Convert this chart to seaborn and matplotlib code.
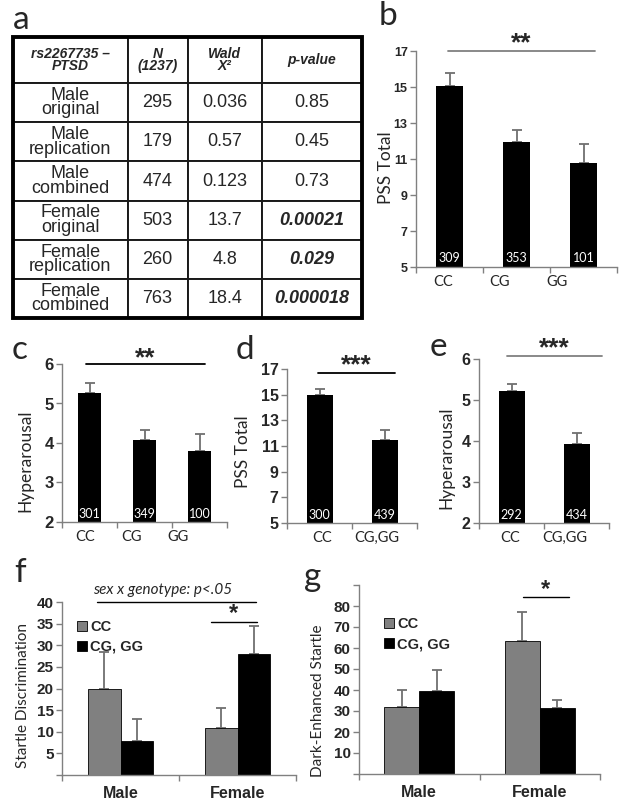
import numpy as np
import pandas as pd
import matplotlib
matplotlib.use("Agg")
import matplotlib.pyplot as plt
import seaborn as sns

# ---- data -------------------------------------------------------------
table_header = ["rs2267735 –\nPTSD", "N\n(1237)", "Wald\nΧ²", "p-value"]
table_groups = ["Male\noriginal", "Male\nreplication", "Male\ncombined",
                "Female\noriginal", "Female\nreplication", "Female\ncombined"]
table_n      = ["295", "179", "474", "503", "260", "763"]
table_wald   = ["0.036", "0.57", "0.123", "13.7", "4.8", "18.4"]
table_p      = ["0.85", "0.45", "0.73", "0.00021", "0.029", "0.000018"]

geno3 = ["CC", "CG", "GG"]
geno2 = ["CC", "CG,GG"]

pss3_mean  = [15.05, 11.95, 10.8]
pss3_err   = [0.75, 0.65, 1.05]
pss3_n     = [309, 353, 101]

hyp3_mean  = [5.27, 4.08, 3.81]
hyp3_err   = [0.25, 0.24, 0.41]
hyp3_n     = [301, 349, 100]

pss2_mean  = [15.0, 11.45]
pss2_err   = [0.45, 0.8]
pss2_n     = [300, 439]

hyp2_mean  = [5.21, 3.93]
hyp2_err   = [0.17, 0.27]
hyp2_n     = [292, 434]

sexes = ["Male", "Female"]
hue_levels = ["CC", "CG, GG"]
startle_cc     = [20.0, 10.9]
startle_cc_err = [8.5, 4.5]
startle_cg     = [7.9, 28.0]
startle_cg_err = [5.1, 6.4]

dark_cc     = [31.8, 63.5]
dark_cc_err = [8.2, 13.5]
dark_cg     = [39.5, 31.3]
dark_cg_err = [9.8, 4.0]

# ---- style ------------------------------------------------------------
sns.set_theme(style="white")
plt.rcParams["font.family"] = ["Liberation Sans", "DejaVu Sans"]
CAL = ["Lato", "DejaVu Sans"]      # stand-in for Calibri
AX_GREY = "#808080"

W, H = 624, 809
fig = plt.figure(figsize=(W / 100, H / 100), dpi=100)


def add_ax(x0, x1, ytop, ybot):
    # pixel box -> figure fraction
    return fig.add_axes([x0 / W, 1 - ybot / H, (x1 - x0) / W, (ybot - ytop) / H])


def style_axes(ax, yticks, tick_size, hide=()):
    sns.despine(ax=ax)
    for s in ("left", "bottom"):
        ax.spines[s].set_color(AX_GREY)
        ax.spines[s].set_linewidth(1.0)
    ax.set_yticks(yticks)
    ax.set_yticklabels(["" if t in hide else str(t) for t in yticks],
                       fontsize=tick_size, fontweight="bold")
    ax.tick_params(axis="y", length=4, width=1, color=AX_GREY, pad=2, left=True)
    n = len(ax.get_xticks())
    ax.set_xticks(np.arange(-0.5, n, 1.0))
    ax.set_xticklabels([])
    ax.tick_params(axis="x", which="major", length=4, width=1, color=AX_GREY, bottom=True)
    ax.set_xlim(-0.5, n - 0.5)


def up_errors(ax, xs, means, errs):
    ax.errorbar(xs, means, yerr=[np.zeros(len(errs)), errs], fmt="none",
                ecolor="#707070", elinewidth=1.3, capsize=3.5, capthick=1.3, zorder=1)


def simple_panel(rect, cats, means, errs, counts, ylim, yticks, tick_size,
                 ylabel, ylab_xy, label_pos, width, sig, line_col):
    ax = add_ax(*rect)
    sns.barplot(x=cats, y=means, color="black", saturation=1, width=width,
                errorbar=None, linewidth=0, ax=ax, zorder=2)
    ax.set_ylim(*ylim)
    style_axes(ax, yticks, tick_size)
    xs = [p.get_x() + p.get_width() / 2 for p in ax.patches]
    up_errors(ax, xs, means, errs)
    for x, n in zip(xs, counts):
        ax.text(x, ylim[0] + 0.012 * (ylim[1] - ylim[0]), str(n), color="white",
                ha="center", va="bottom", fontsize=9, family=CAL, zorder=3)
    ax.set_xticks(label_pos, cats, minor=True, fontsize=10.5, family=CAL)
    ax.tick_params(axis="x", which="minor", length=0, pad=6)
    ax.set_ylabel(ylabel, fontsize=12.5, family=CAL, va="center")
    ax.yaxis.set_label_coords(*ylab_xy)
    x0, x1, ly, stars, sy = sig
    ax.plot([x0, x1], [ly, ly], color=line_col, lw=1.3, clip_on=False)
    ax.text((x0 + x1) / 2, sy, stars, ha="center", va="center", fontsize=19,
            fontweight="bold", clip_on=False)
    return ax


def grouped_panel(rect, cc, cc_err, cg, cg_err, ylim, yticks, hide, ylabel,
                  ylab_xy, width, legend_anchor):
    ax = add_ax(*rect)
    df = pd.DataFrame({"sex": sexes * 2,
                       "genotype": [hue_levels[0]] * 2 + [hue_levels[1]] * 2,
                       "value": cc + cg})
    sns.barplot(df, x="sex", y="value", hue="genotype", hue_order=hue_levels,
                palette=["#808080", "black"], saturation=1, width=width,
                edgecolor="black", linewidth=0.6, errorbar=None, ax=ax, zorder=2)
    ax.set_ylim(*ylim)
    style_axes(ax, yticks, 11, hide)
    for cont, errs, vals in zip(ax.containers, [cc_err, cg_err], [cc, cg]):
        xs = [b.get_x() + b.get_width() / 2 for b in cont]
        up_errors(ax, xs, vals, errs)
    ax.set_xticks([0, 1], sexes, minor=True, fontsize=11.5, fontweight="bold")
    ax.tick_params(axis="x", which="minor", length=0, pad=8)
    ax.set_xlabel("")
    ax.set_ylabel(ylabel, fontsize=11, family=CAL, va="center")
    ax.yaxis.set_label_coords(*ylab_xy)
    sns.move_legend(ax, "upper left", bbox_to_anchor=legend_anchor, frameon=False,
                    title=None, handlelength=0.7, handleheight=0.7,
                    handletextpad=0.2, labelspacing=0.4, borderaxespad=0,
                    prop={"weight": "bold", "size": 10.5})
    return ax


# ---- a: table ---------------------------------------------------------
tax = add_ax(13, 362, 37, 318)
tax.axis("off")
cells = [table_header] + [list(r) for r in zip(table_groups, table_n, table_wald, table_p)]
col_w = [115, 60, 75, 100]
tbl = tax.table(cellText=cells, colWidths=col_w, bbox=[0, 0, 1, 1], cellLoc="center")
tbl.auto_set_font_size(False)
for (r, c), cell in tbl.get_celld().items():
    cell.set_height(46 if r == 0 else 39)
    cell.set_linewidth(1.4)
    txt = cell.get_text()
    txt.set_linespacing(0.8)
    if r == 0:
        txt.set_fontsize(10)
        txt.set_fontweight("bold")
        txt.set_fontstyle("italic")
    else:
        txt.set_fontsize(13)
        if c == 3 and r >= 4:
            txt.set_fontweight("bold")
            txt.set_fontstyle("italic")
tax.add_patch(plt.Rectangle((0, 0), 1, 1, transform=tax.transAxes, fill=False,
                            lw=2.8, ec="black", clip_on=False, zorder=5))

# ---- b-e --------------------------------------------------------------
simple_panel((416, 617, 51, 267), geno3, pss3_mean, pss3_err, pss3_n, (5, 17),
             range(5, 18, 2), 9, "PSS Total", (-0.15, 0.46), [-0.1, 0.75, 1.6], 0.4,
             (-0.02, 2.17, 17, "**", 17.45), AX_GREY)
simple_panel((62, 227, 364, 522), geno3, hyp3_mean, hyp3_err, hyp3_n, (2, 6),
             range(2, 7), 12, "Hyperarousal", (-0.22, 0.39), [-0.08, 0.76, 1.6], 0.42,
             (-0.06, 2.1, 6, "**", 6.14), "black")
simple_panel((287, 417, 369, 523), geno2, pss2_mean, pss2_err, pss2_n, (5, 17),
             range(5, 18, 2), 11.5, "PSS Total", (-0.34, 0.46), [0.04, 0.88], 0.4,
             (-0.02, 1.16, 16.67, "***", 17.3), "black")
simple_panel((479, 609, 359, 523), geno2, hyp2_mean, hyp2_err, hyp2_n, (2, 6),
             range(2, 7), 11.5, "Hyperarousal", (-0.25, 0.40), [-0.02, 0.82], 0.4,
             (-0.07, 1.39, 6.07, "***", 6.27), AX_GREY)

# ---- f, g -------------------------------------------------------------
fax = grouped_panel((62, 296, 602, 775), startle_cc, startle_cc_err, startle_cg,
                    startle_cg_err, (0, 40), range(0, 41, 5), (0,),
                    "Startle Discrimination", (-0.165, 0.46), 0.56, (0.04, 0.93))
fax.plot([-0.2, 1.16], [40, 40], color="black", lw=1.0, clip_on=False)
fax.text(0.36, 42.8, "sex x genotype: p<.05", ha="center", va="center",
         fontsize=11, style="italic", family=CAL, clip_on=False)
fax.plot([0.77, 1.17], [35.4, 35.4], color="black", lw=1.0)
fax.text(0.97, 37.3, "*", ha="center", va="center", fontsize=17, fontweight="bold")

gax = grouped_panel((359, 600, 585, 774), dark_cc, dark_cc_err, dark_cg,
                    dark_cg_err, (0, 90), range(0, 91, 10), (0, 90),
                    "Dark-Enhanced Startle", (-0.17, 0.39), 0.58, (0.08, 0.86))
gax.plot([0.86, 1.24], [84.3, 84.3], color="black", lw=1.0)
gax.text(1.05, 87.8, "*", ha="center", va="center", fontsize=17, fontweight="bold")

# ---- panel letters ----------------------------------------------------
for letter, (px, py) in {"a": (21, 20), "b": (388, 16), "c": (20, 350),
                         "d": (245, 350), "e": (438, 347), "f": (20, 573),
                         "g": (313, 577)}.items():
    fig.text(px / W, 1 - py / H, letter, fontsize=24, family=CAL,
             ha="center", va="center")

fig.savefig("out.png", dpi=100)
